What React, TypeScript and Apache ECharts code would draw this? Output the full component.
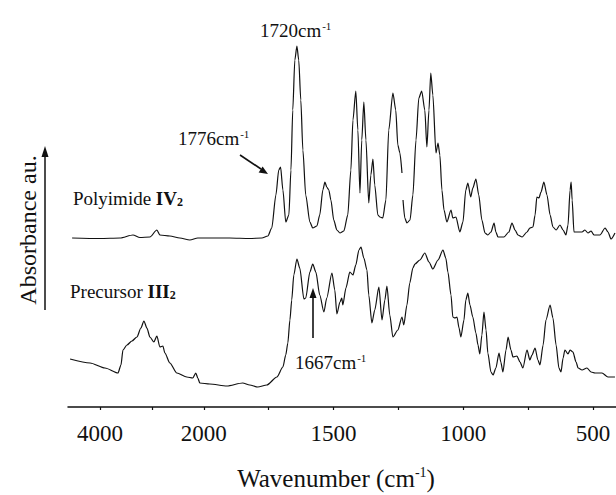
import React, { useEffect, useRef } from "react";
import * as echarts from "echarts";

// Wavenumber (cm-1) and absorbance (a.u., stacked plot scale)
const polyimideWn = [4538, 4000, 3615, 3365, 3231, 3038, 2904, 2846, 2654, 2462, 2269, 2115, 1977, 1900, 1823, 1776, 1753, 1738, 1722, 1711, 1704, 1695, 1684, 1672, 1664, 1657, 1649, 1641, 1634, 1626, 1618, 1607, 1591, 1580, 1564, 1553, 1541, 1533, 1526, 1518, 1510, 1499, 1487, 1475, 1460, 1445, 1433, 1425, 1414, 1406, 1398, 1391, 1383, 1375, 1364, 1356, 1348, 1341, 1329, 1321, 1310, 1298, 1287, 1271, 1260, 1252, 1244, 1236, 1234, 1232, 1225, 1217, 1205, 1194, 1182, 1171, 1160, 1148, 1140, 1132, 1125, 1117, 1105, 1097, 1090, 1082, 1074, 1063, 1047, 1040, 1028, 1013, 1001, 990, 982, 971, 963, 951, 940, 928, 916, 905, 893, 881, 874, 866, 843, 824, 812, 800, 789, 773, 754, 743, 731, 723, 716, 708, 700, 689, 677, 665, 654, 642, 627, 615, 604, 596, 588, 584, 580, 573, 557, 542, 531, 519, 507, 496, 473, 453, 442, 430, 415];
const polyimideAbs = [1.69, 1.685, 1.69, 1.72, 1.695, 1.7, 1.77, 1.72, 1.71, 1.69, 1.67, 1.69, 1.69, 1.69, 1.685, 1.69, 1.71, 1.79, 2.12, 2.37, 2.4, 2.17, 1.85, 1.92, 2.37, 2.97, 3.47, 3.61, 3.47, 3.07, 2.57, 2.12, 1.85, 1.79, 1.81, 1.92, 2.17, 2.25, 2.2, 2.17, 2.07, 1.87, 1.77, 1.74, 1.76, 1.92, 2.37, 2.87, 3.16, 2.77, 2.14, 2.67, 3.05, 2.67, 2.04, 2.32, 2.48, 2.22, 1.92, 1.9, 1.89, 2.07, 2.77, 3.14, 2.97, 2.62, 2.54, 2.34, null, 2.07, 1.89, 1.84, 1.87, 2.12, 2.67, 3.09, 3.16, 2.97, 2.6, 2.97, 3.34, 3.12, 2.54, 2.64, 2.52, 2.17, 1.97, 1.85, 1.97, 1.89, 1.9, 1.75, 1.85, 2.17, 2.24, 2.1, 2.19, 2.28, 2.12, 1.87, 1.74, 1.72, 1.75, 1.84, 1.75, 1.7, 1.7, 1.75, 1.84, 1.77, 1.72, 1.7, 1.75, 1.79, 1.8, 1.92, 2.1, 2.09, 2.15, 2.25, 2.12, 1.92, 1.8, 1.77, 1.82, 1.77, 1.72, 1.82, 2.17, 2.25, 2.07, 1.75, 1.75, 1.75, 1.77, 1.74, 1.76, 1.72, 1.72, 1.79, 1.75, 1.68, 1.74];

const precursorWn = [4577, 4192, 3904, 3654, 3596, 3558, 3481, 3385, 3288, 3212, 3154, 3096, 3038, 2962, 2904, 2846, 2788, 2750, 2654, 2519, 2327, 2212, 2154, 2115, 2077, 1977, 1911, 1850, 1823, 1792, 1757, 1718, 1695, 1684, 1676, 1668, 1661, 1653, 1641, 1630, 1614, 1607, 1591, 1580, 1568, 1553, 1537, 1526, 1506, 1495, 1487, 1475, 1468, 1464, 1452, 1437, 1425, 1414, 1402, 1394, 1383, 1371, 1364, 1352, 1341, 1325, 1313, 1302, 1294, 1283, 1271, 1252, 1236, 1229, 1217, 1206, 1194, 1186, 1167, 1148, 1132, 1117, 1097, 1078, 1067, 1059, 1047, 1040, 1032, 1024, 1016, 1009, 997, 990, 982, 974, 963, 951, 943, 936, 928, 920, 912, 905, 893, 885, 874, 862, 855, 847, 835, 827, 816, 808, 793, 781, 770, 754, 743, 735, 723, 712, 704, 692, 681, 665, 654, 642, 631, 623, 615, 608, 596, 588, 577, 565, 557, 542, 523, 507, 492, 465, 442, 415];
const precursorAbs = [0.48, 0.44, 0.39, 0.34, 0.42, 0.57, 0.62, 0.66, 0.7, 0.79, 0.86, 0.79, 0.7, 0.65, 0.71, 0.6, 0.61, 0.54, 0.44, 0.34, 0.3, 0.29, 0.34, 0.29, 0.24, 0.23, 0.21, 0.24, 0.22, 0.2, 0.22, 0.3, 0.4, 0.52, 0.64, 0.87, 1.07, 1.32, 1.48, 1.39, 1.08, 1.09, 1.35, 1.43, 1.35, 1.12, 0.95, 1.09, 1.34, 1.17, 0.93, 1.05, 1.09, 1.02, 1.19, 1.35, 1.32, 1.42, 1.57, 1.6, 1.49, 1.37, 1.12, 0.84, 0.97, 1.2, 0.87, 1.07, 1.21, 0.92, 0.7, 0.77, 0.9, 0.82, 1.02, 1.24, 1.39, 1.43, 1.47, 1.54, 1.45, 1.38, 1.47, 1.57, 1.49, 1.35, 1.12, 0.9, 0.89, 0.9, 0.79, 0.7, 0.87, 1.07, 1.14, 1.02, 0.9, 0.74, 0.62, 0.53, 0.72, 0.95, 0.77, 0.54, 0.35, 0.32, 0.39, 0.54, 0.45, 0.35, 0.57, 0.7, 0.57, 0.5, 0.51, 0.45, 0.39, 0.57, 0.47, 0.52, 0.59, 0.47, 0.42, 0.62, 0.87, 1.02, 0.89, 0.62, 0.39, 0.35, 0.49, 0.57, 0.53, 0.57, 0.55, 0.45, 0.39, 0.37, 0.39, 0.35, 0.34, 0.34, 0.3, 0.3];

const tickWn = [4000, 3000, 2000, 1750, 1500, 1250, 1000, 750, 500];
const labelWn = [4000, 2000, 1500, 1000, 500];
const axisRangeWn = [4617, 411];

// Axis has a scale change at 2000 cm-1 (upper part compressed 5x)
const toT = (wn: number) => (wn >= 2000 ? (4000 - wn) * 0.2 : 400 + (2000 - wn));
const fromT = (t: number) => (t <= 400 ? 4000 - t / 0.2 : 2000 - (t - 400));

const SERIF = '"Liberation Serif", "Times New Roman", serif';

export default function App() {
  const ref = useRef<HTMLDivElement>(null);
  useEffect(() => {
    if (!ref.current) return;
    const chart = echarts.init(ref.current, null, { renderer: "svg" });
    const pData = polyimideWn.map((w, i) => [toT(w), polyimideAbs[i] === null ? "-" : polyimideAbs[i]]);
    const cData = precursorWn.map((w, i) => [toT(w), precursorAbs[i]]);
    const txt = (size: number, extra: any = {}) => ({ fontFamily: SERIF, fontSize: size, fill: "#111", ...extra });
    chart.setOption({
      animation: false,
      backgroundColor: "#fff",
      grid: { left: 68, right: 0, top: 0, bottom: 88 },
      xAxis: {
        type: "value",
        min: toT(axisRangeWn[0]),
        max: toT(axisRangeWn[1]),
        splitLine: { show: false },
        axisLine: { show: true, onZero: false, lineStyle: { color: "#111", width: 1.5 } },
        axisTick: { show: true, length: 3, customValues: tickWn.map(toT), lineStyle: { color: "#111", width: 1.2 } },
        axisLabel: {
          customValues: labelWn.map(toT),
          formatter: (v: number) => String(Math.round(fromT(v))),
          fontFamily: SERIF,
          fontSize: 23,
          color: "#111",
          margin: 15,
        },
      },
      yAxis: { type: "value", min: 0, max: 4.07, show: false },
      series: [
        {
          type: "line",
          name: "Polyimide IV2",
          data: pData,
          showSymbol: false,
          smooth: 0.25,
          smoothMonotone: "x",
          connectNulls: false,
          lineStyle: { color: "#111", width: 1.2 },
        },
        {
          type: "line",
          name: "Precursor III2",
          data: cData,
          showSymbol: false,
          smooth: 0.25,
          smoothMonotone: "x",
          lineStyle: { color: "#111", width: 1.2 },
        },
      ],
      graphic: [
        {
          type: "text",
          x: 28,
          y: 230,
          rotation: Math.PI / 2,
          style: { text: "Absorbance au.", align: "center", verticalAlign: "middle", textAlign: "center", textVerticalAlign: "middle", ...txt(24) },
        },
        { type: "line", shape: { x1: 45, y1: 310, x2: 45, y2: 154 }, style: { stroke: "#111", lineWidth: 1.5 } },
        { type: "polygon", shape: { points: [[45, 146], [41.5, 157], [48.5, 157]] }, style: { fill: "#111" } },
        {
          type: "text",
          x: 336,
          y: 478,
          style: {
            text: "Wavenumber (cm{s|-1})",
            align: "center",
            verticalAlign: "middle",
            textAlign: "center",
            textVerticalAlign: "middle",
            ...txt(25),
            rich: { s: { fontFamily: SERIF, fontSize: 14, verticalAlign: "top", fill: "#111", padding: [0, 0, 8, 0] } },
          },
        },
        {
          type: "text",
          x: 260,
          y: 30,
          style: {
            text: "1720cm{s|-1}",
            align: "left",
            verticalAlign: "middle",
            textAlign: "left",
            textVerticalAlign: "middle",
            ...txt(19),
            rich: { s: { fontFamily: SERIF, fontSize: 11, verticalAlign: "top", fill: "#111", padding: [0, 0, 6, 1] } },
          },
        },
        {
          type: "text",
          x: 178,
          y: 138,
          style: {
            text: "1776cm{s|-1}",
            align: "left",
            verticalAlign: "middle",
            textAlign: "left",
            textVerticalAlign: "middle",
            ...txt(19),
            rich: { s: { fontFamily: SERIF, fontSize: 11, verticalAlign: "top", fill: "#111", padding: [0, 0, 6, 1] } },
          },
        },
        { type: "line", shape: { x1: 240, y1: 155, x2: 261, y2: 169 }, style: { stroke: "#111", lineWidth: 1.6 } },
        { type: "polygon", shape: { points: [[268, 174], [258.6, 172.4], [262.6, 166.4]] }, style: { fill: "#111" } },
        {
          type: "text",
          x: 295,
          y: 362,
          style: {
            text: "1667cm{s|-1}",
            align: "left",
            verticalAlign: "middle",
            textAlign: "left",
            textVerticalAlign: "middle",
            ...txt(19),
            rich: { s: { fontFamily: SERIF, fontSize: 11, verticalAlign: "top", fill: "#111", padding: [0, 0, 6, 1] } },
          },
        },
        { type: "line", shape: { x1: 313, y1: 338, x2: 313, y2: 296 }, style: { stroke: "#111", lineWidth: 1.6 } },
        { type: "polygon", shape: { points: [[313, 288], [309.5, 298], [316.5, 298]] }, style: { fill: "#111" } },
        {
          type: "text",
          x: 73,
          y: 198,
          style: {
            text: "Polyimide {b|IV}{sub|2}",
            align: "left",
            verticalAlign: "middle",
            textAlign: "left",
            textVerticalAlign: "middle",
            ...txt(19),
            rich: {
              b: { fontFamily: SERIF, fontSize: 19, fontWeight: "bold", fill: "#111" },
              sub: { fontFamily: SERIF, fontSize: 12, fontWeight: "bold", verticalAlign: "bottom", fill: "#111", padding: [6, 0, 0, 0] },
            },
          },
        },
        {
          type: "text",
          x: 70,
          y: 291,
          style: {
            text: "Precursor {b|III}{sub|2}",
            align: "left",
            verticalAlign: "middle",
            textAlign: "left",
            textVerticalAlign: "middle",
            ...txt(19),
            rich: {
              b: { fontFamily: SERIF, fontSize: 19, fontWeight: "bold", fill: "#111" },
              sub: { fontFamily: SERIF, fontSize: 12, fontWeight: "bold", verticalAlign: "bottom", fill: "#111", padding: [6, 0, 0, 0] },
            },
          },
        },
      ],
    });
    return () => chart.dispose();
  }, []);
  return <div ref={ref} style={{ position: "fixed", left: 0, top: 0, width: 616, height: 495, background: "#fff" }} />;
}
